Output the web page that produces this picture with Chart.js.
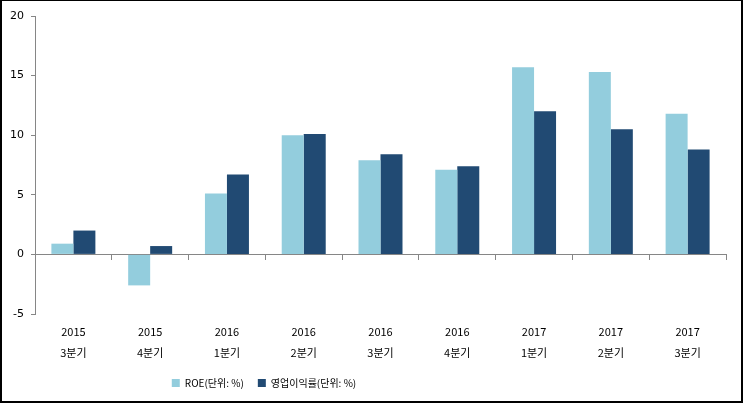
<!DOCTYPE html>
<html>
<head>
<meta charset="utf-8">
<script src="https://cdn.jsdelivr.net/npm/chart.js@4/dist/chart.umd.min.js"></script>
<style>
  html, body { margin: 0; padding: 0; background: #fff; }
  #wrap {
    width: 743px; height: 403px; box-sizing: border-box;
    border-style: solid; border-color: #000; border-width: 1px 2px 2px 2px;
    position: relative;
  }
</style>
</head>
<body>
<div id="wrap"><canvas id="roeChart"></canvas></div>
<script>
const years = ["2015", "2015", "2016", "2016", "2016", "2016", "2017", "2017", "2017"];
const quarters = ["3분기", "4분기", "1분기", "2분기", "3분기", "4분기", "1분기", "2분기", "3분기"];
const roeValues = [0.9, -2.6, 5.1, 10.0, 7.9, 7.1, 15.7, 15.3, 11.8];
const marginValues = [2.0, 0.7, 6.7, 10.1, 8.4, 7.4, 12.0, 10.5, 8.8];
const seriesNames = ["ROE(단위: %)", "영업이익률(단위: %)"];

let labels = years.map(function (y, i) {
  return [y, quarters[i]];
});

// legend sits left of centre in the original
const shiftLegend = {
  id: "shiftLegend",
  afterLayout: function (chart) {
    let lg = chart.legend;
    lg.left -= 100;
    lg.right -= 100;
  },
};

let ctx = document.getElementById("roeChart").getContext("2d");
let chart = new Chart(ctx, {
  type: "bar",
  data: {
    labels: labels,
    datasets: [
      {
        label: seriesNames[0],
        data: roeValues,
        backgroundColor: "#93CDDD",
        barPercentage: 1,
        categoryPercentage: 0.573,
      },
      {
        label: seriesNames[1],
        data: marginValues,
        backgroundColor: "#214A73",
        barPercentage: 1,
        categoryPercentage: 0.573,
      },
    ],
  },
  options: {
    responsive: true,
    maintainAspectRatio: false,
    animation: false,
    layout: {
      padding: { top: 15, right: 15, left: 0, bottom: 3 },
    },
    plugins: {
      tooltip: { enabled: false },
      legend: {
        position: "bottom",
        labels: {
          boxWidth: 8,
          boxHeight: 8,
          padding: 14,
          color: "#000",
          font: { family: "'Noto Sans CJK KR'", size: 10 },
        },
      },
    },
    scales: {
      x: {
        type: "category",
        border: { display: false },
        grid: { display: false, drawTicks: false },
        ticks: {
          padding: 7,
          color: "#000",
          maxRotation: 0,
          autoSkip: false,
          font: { family: "'Noto Sans CJK KR'", size: 11, lineHeight: 1.9 },
        },
        afterFit: function (scale) {
          scale.height = 50;
        },
      },
      x2: {
        type: "category",
        labels: labels,
        position: { y: 0 },
        offset: true,
        z: 1,
        border: { display: true, color: "#868686", width: 1 },
        grid: {
          offset: true,
          drawOnChartArea: false,
          drawTicks: true,
          tickLength: 5,
          color: "#868686",
        },
        ticks: { display: false },
      },
      y: {
        min: -5,
        max: 20,
        border: { display: true, color: "#868686", width: 1 },
        grid: {
          drawOnChartArea: false,
          drawTicks: true,
          tickLength: 4,
          color: "#868686",
        },
        ticks: {
          stepSize: 5,
          padding: 7,
          color: "#000",
          font: { family: "'DejaVu Sans'", size: 11 },
        },
        afterFit: function (scale) {
          scale.width = 33;
        },
      },
    },
  },
  plugins: [shiftLegend],
});
</script>
</body>
</html>
